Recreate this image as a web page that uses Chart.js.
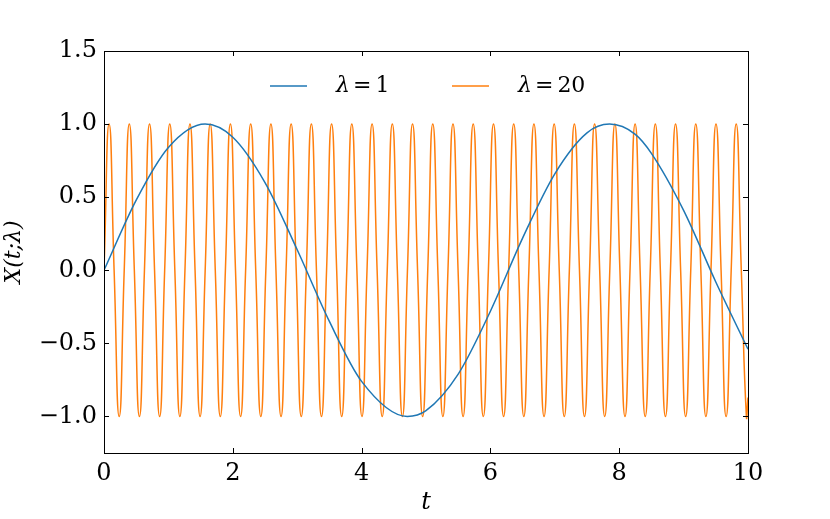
<!DOCTYPE html>
<html>
<head>
<meta charset="utf-8">
<script src="https://cdn.jsdelivr.net/npm/chart.js@4"></script>
<style>
  html, body { margin: 0; padding: 0; background: #fff; }
  #wrap { width: 830px; height: 519px; }
</style>
</head>
<body>
<div id="wrap"><canvas id="myChart"></canvas></div>
<script>
// lambda = 1 curve
const tSlow = [0, 0.5, 1, 1.57, 2, 2.5, 3, 3.5, 4, 4.71, 5, 5.5, 6, 6.5, 7, 7.5, 7.85, 8.25, 8.5, 9, 9.5, 10]
const xSlow = [0, 0.48, 0.84, 1.0, 0.91, 0.6, 0.14, -0.35, -0.76, -1.0, -0.96, -0.71, -0.28, 0.22, 0.66, 0.94, 1.0, 0.93, 0.8, 0.41, -0.08, -0.54]

// lambda = 20 curve: zeros, peaks and troughs
const tFast = [
  0, 0.079, 0.157, 0.236, 0.314, 0.393, 0.471, 0.550, 0.628, 0.707,
  0.785, 0.864, 0.942, 1.021, 1.100, 1.178, 1.257, 1.335, 1.414, 1.492,
  1.571, 1.649, 1.728, 1.806, 1.885, 1.963, 2.042, 2.121, 2.199, 2.278,
  2.356, 2.435, 2.513, 2.592, 2.670, 2.749, 2.827, 2.906, 2.985, 3.063,
  3.142, 3.220, 3.299, 3.377, 3.456, 3.534, 3.613, 3.691, 3.770, 3.848,
  3.927, 4.006, 4.084, 4.163, 4.241, 4.320, 4.398, 4.477, 4.555, 4.634,
  4.712, 4.791, 4.869, 4.948, 5.027, 5.105, 5.184, 5.262, 5.341, 5.419,
  5.498, 5.576, 5.655, 5.733, 5.812, 5.890, 5.969, 6.048, 6.126, 6.205,
  6.283, 6.362, 6.440, 6.519, 6.597, 6.676, 6.754, 6.833, 6.912, 6.990,
  7.069, 7.147, 7.226, 7.304, 7.383, 7.461, 7.540, 7.618, 7.697, 7.775,
  7.854, 7.933, 8.011, 8.090, 8.168, 8.247, 8.325, 8.404, 8.482, 8.561,
  8.639, 8.718, 8.796, 8.875, 8.954, 9.032, 9.111, 9.189, 9.268, 9.346,
  9.425, 9.503, 9.582, 9.660, 9.739, 9.817, 9.896, 9.975, 10
]
const xFast = [
  0, 1, 0, -1, 0, 1, 0, -1, 0, 1,
  0, -1, 0, 1, 0, -1, 0, 1, 0, -1,
  0, 1, 0, -1, 0, 1, 0, -1, 0, 1,
  0, -1, 0, 1, 0, -1, 0, 1, 0, -1,
  0, 1, 0, -1, 0, 1, 0, -1, 0, 1,
  0, -1, 0, 1, 0, -1, 0, 1, 0, -1,
  0, 1, 0, -1, 0, 1, 0, -1, 0, 1,
  0, -1, 0, 1, 0, -1, 0, 1, 0, -1,
  0, 1, 0, -1, 0, 1, 0, -1, 0, 1,
  0, -1, 0, 1, 0, -1, 0, 1, 0, -1,
  0, 1, 0, -1, 0, 1, 0, -1, 0, 1,
  0, -1, 0, 1, 0, -1, 0, 1, 0, -1,
  0, 1, 0, -1, 0, 1, 0, -1, -0.87
]

const seriesNames = ['1', '20']
const xTicks = [0, 2, 4, 6, 8, 10]
const yTicks = [-1.0, -0.5, 0.0, 0.5, 1.0, 1.5]

const BLUE = '#1f77b4'
const ORANGE = '#ff7f0e'
const SERIF = "'DejaVu Serif', serif"

const toPoints = (ts, xs) => ts.map((t, i) => ({ x: t, y: xs[i] }))
const minus = (s) => s.replace('-', '\u2212')

// matplotlib-ish frame with inward ticks on all four sides + legend inside
const framePlugin = {
  id: 'frame',
  afterDraw(chart) {
    const { ctx, chartArea: a, scales } = chart
    ctx.save()
    ctx.strokeStyle = '#000'
    ctx.lineWidth = 1
    ctx.strokeRect(a.left + 0.5, a.top + 0.5, a.right - a.left, a.bottom - a.top)
    ctx.beginPath()
    xTicks.forEach(v => {
      const px = Math.round(scales.x.getPixelForValue(v)) + 0.5
      ctx.moveTo(px, a.bottom); ctx.lineTo(px, a.bottom - 5)
      ctx.moveTo(px, a.top); ctx.lineTo(px, a.top + 5)
    })
    yTicks.forEach(v => {
      const py = Math.round(scales.y.getPixelForValue(v)) + 0.5
      ctx.moveTo(a.left, py); ctx.lineTo(a.left + 5, py)
      ctx.moveTo(a.right, py); ctx.lineTo(a.right - 5, py)
    })
    ctx.stroke()

    // legend
    const ly = a.top + 35
    const items = [
      { color: BLUE, x: a.left + 166, name: seriesNames[0] },
      { color: ORANGE, x: a.left + 348, name: seriesNames[1] }
    ]
    ctx.textBaseline = 'middle'
    ctx.textAlign = 'left'
    items.forEach(it => {
      ctx.strokeStyle = it.color
      ctx.lineWidth = 1.5
      ctx.beginPath()
      ctx.moveTo(it.x, ly); ctx.lineTo(it.x + 37, ly)
      ctx.stroke()
      ctx.fillStyle = '#000'
      ctx.font = 'italic 22px ' + SERIF
      let tx = it.x + 66
      ctx.fillText('\u03bb', tx, ly)
      tx += ctx.measureText('\u03bb').width + 3
      ctx.font = '22px ' + SERIF
      ctx.fillText('=' , tx, ly)
      tx += ctx.measureText('=').width + 4
      ctx.fillText(it.name, tx, ly)
    })
    ctx.restore()
  }
}

const ctx = document.getElementById('myChart')

new Chart(ctx, {
  type: 'line',
  data: {
    datasets: [
      {
        label: '\u03bb = ' + seriesNames[0],
        data: toPoints(tSlow, xSlow),
        borderColor: BLUE,
        borderWidth: 1.5,
        pointRadius: 0,
        cubicInterpolationMode: 'monotone'
      },
      {
        label: '\u03bb = ' + seriesNames[1],
        data: toPoints(tFast, xFast),
        borderColor: ORANGE,
        borderWidth: 1.5,
        pointRadius: 0,
        tension: 0.55
      }
    ]
  },
  options: {
    responsive: true,
    maintainAspectRatio: false,
    animation: false,
    layout: { padding: { top: 51, right: 82, left: 0, bottom: 0 } },
    plugins: {
      legend: { display: false },
      tooltip: { enabled: false }
    },
    scales: {
      x: {
        type: 'linear',
        min: 0,
        max: 10,
        afterBuildTicks: (s) => { s.ticks = xTicks.map(v => ({ value: v })) },
        afterFit: (s) => { s.height = 66 },
        grid: { display: false, drawTicks: false },
        border: { display: false },
        ticks: {
          color: '#000',
          padding: 6,
          font: { family: SERIF, size: 24 },
          callback: (v) => minus(String(v))
        },
        title: {
          display: true,
          text: 't',
          color: '#000',
          padding: { top: 0, bottom: 2 },
          font: { family: SERIF, size: 24, style: 'italic' }
        }
      },
      y: {
        type: 'linear',
        min: -1.25,
        max: 1.5,
        afterBuildTicks: (s) => { s.ticks = yTicks.map(v => ({ value: v })) },
        afterFit: (s) => { s.width = 104 },
        grid: { display: false, drawTicks: false },
        border: { display: false },
        ticks: {
          color: '#000',
          padding: 7,
          font: { family: SERIF, size: 24 },
          callback: (v) => minus(v.toFixed(1))
        },
        title: {
          display: true,
          text: 'X(t;\u03bb)',
          color: '#000',
          padding: 1,
          font: { family: SERIF, size: 22, style: 'italic' }
        }
      }
    }
  },
  plugins: [framePlugin]
})
</script>
</body>
</html>
